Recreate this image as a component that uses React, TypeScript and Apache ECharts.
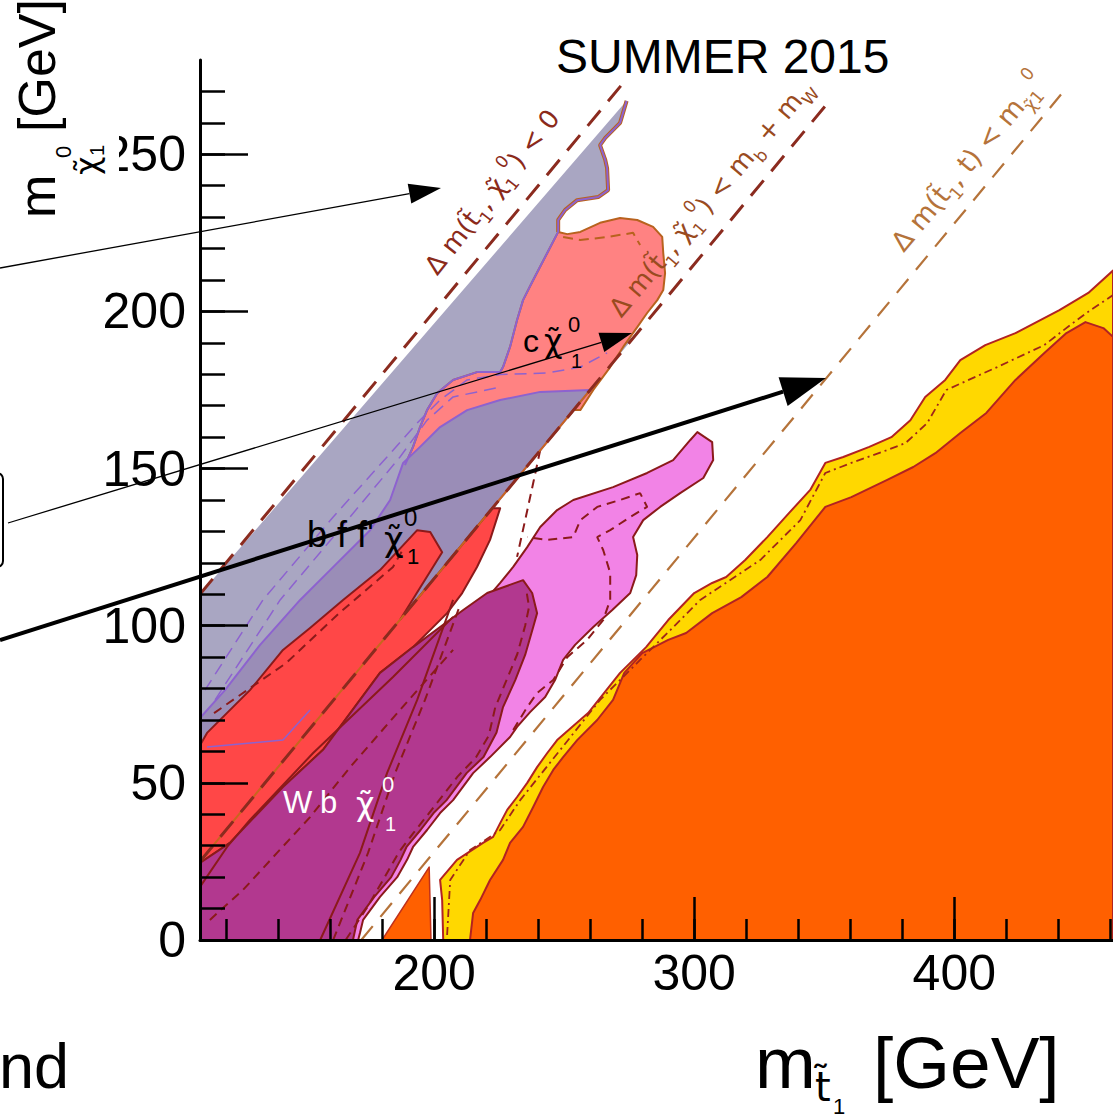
import React, { useEffect, useRef } from "react";
import * as echarts from "echarts";

// ---------- axes (GeV) ----------
const X_RANGE = [110, 461];
const Y_RANGE = [0, 280];
const X_MINOR_TICKS = [120, 140, 160, 180, 200, 220, 240, 260, 280, 300, 320, 340, 360, 380, 400, 420, 440, 460];
const X_MAJOR_TICKS = [200, 300, 400];
const Y_MINOR_TICKS = [10, 20, 30, 40, 50, 60, 70, 80, 90, 100, 110, 120, 130, 140, 150, 160, 170, 180, 190, 200, 210, 220, 230, 240, 250, 260, 270];
const Y_MAJOR_TICKS = [0, 50, 100, 150, 200, 250];

// ---------- kinematic boundaries [m_stop, m_LSP] ----------
const KIN_ZERO = [[110, 110], [273, 273]];
const KIN_BW = [[110, 25], [353, 268]];
const KIN_TOP = [[172, 0], [441, 269]];
const BW_EDGE = [[110, 25], [260, 175]];

// ---------- excluded regions [m_stop, m_LSP] ----------
const GREY_REGION = [
  [110, 110], [274, 267], [271.5, 260], [265.8, 255.2], [263.8, 252.9], [265.8, 248.2], [266.5, 245.6],
  [266.9, 238.6], [263.1, 236.4], [255, 235.4], [250.4, 232.3], [247.7, 229.1], [247.7, 225.3],
  [270, 215], [276, 191], [187, 102], [110, 62],
];
const SALMON_REGION = [
  [247.7, 225.3], [251.2, 224.6], [256.2, 225.3], [263.8, 228.2], [271.5, 229.7], [278.1, 229.1],
  [284.2, 226.9], [287.7, 223.7], [288.1, 218.6], [288.8, 212.2], [288.1, 206.8], [285.8, 203.6],
  [281.9, 199.5], [278.1, 195], [272.7, 188.7], [267.7, 182.3], [261.2, 175], [256.2, 168.6],
  [240.8, 168.6], [225.4, 168], [210, 163.9], [198.5, 157.5], [188.8, 151.1], [191.9, 156.9],
  [194.6, 163.2], [197.3, 168.6], [201.2, 174], [207.3, 178.2], [216.5, 180.7], [225.4, 180.7],
  [226.5, 182.3], [229.2, 188.7], [231.9, 197.3], [234.2, 203.6], [238.1, 210], [243.5, 218.6],
];
const DARKLAV_REGION = [
  [260, 175], [240.8, 174.4], [225.4, 171.8], [212.7, 168.6], [202.3, 163.2], [194.6, 156.9],
  [188.1, 151.8], [183.1, 140], [175.4, 130.4], [160, 117.7], [148.5, 108.2], [133.1, 93.9],
  [119.6, 79.5], [110, 70.6], [110, 60], [187, 102],
];
const RED_REGION = [
  [110, 62], [112.7, 65.9], [129.2, 79.5], [141.9, 92.3], [152.3, 99.3], [165, 108.2], [179.2, 117.7],
  [193.5, 130.4], [198.5, 129.8], [203.1, 123.4], [187, 102], [222.4, 137.4], [225.4, 137.4],
  [221.5, 127.3], [216.5, 118.7], [210.8, 110.4], [205, 104], [191.9, 93.2], [179.2, 85],
  [157.3, 60.5], [141.9, 48.7], [121.5, 30.9], [110, 24.5],
];
const PINK_REGION = [
  [301.2, 161.6], [306.9, 158.4], [307.3, 152.7], [303.5, 147], [294.6, 142.2], [286.9, 137.8],
  [280.4, 133.6], [276.5, 128.2], [278.1, 122.5], [277.7, 116.1], [275.4, 110.4], [268.5, 105],
  [261.2, 99.6], [254.2, 93.9], [249.6, 89.1], [246.5, 82.7], [242.7, 77.3], [236.9, 72.5],
  [231.9, 67.8], [229.2, 64.6], [221.5, 58.2], [215, 53.1], [207.3, 44.5], [202.3, 40.4],
  [197.3, 35], [191.9, 29.6], [189.6, 25.5], [185.8, 20], [179.2, 13.7], [172.7, 6.4], [171.5, 2.2],
  [170.8, 0], [163.8, 0], [186.9, 76.4], [225.4, 113.6], [230.4, 118.7], [235.8, 125], [240.8, 131.4],
  [247.3, 136.8], [253.5, 140], [268.8, 144.1], [281.9, 148.6], [291.9, 152.7], [298.5, 159.1],
];
const MAGENTA_REGION = [
  [110, 0], [110, 24.5], [121.5, 30.9], [141.9, 48.7], [157.3, 60.5], [179.2, 85], [191.9, 93.2],
  [202.3, 99.6], [211.2, 105], [220.4, 110.4], [234.2, 114.5], [237.7, 110.4], [239.6, 104],
  [238.1, 99.6], [235, 90.7], [231.2, 82.7], [226.5, 74.1], [224, 66], [219, 58.2], [212.5, 53.1],
  [204.8, 44.5], [199.8, 40.4], [194.8, 35], [189.4, 29.6], [187.1, 25.5], [183.5, 20], [177, 13.7],
  [170.5, 6.4], [168.8, 0],
];
const TRIANGLE_REGION = [[180, 0], [198.1, 23.2], [198.8, 0]];
const YELLOW_REGION = [
  [203.5, 0], [203.1, 12.7], [202.3, 19.1], [208.8, 25.5], [218.8, 30.9], [222.7, 32.8], [225.4, 37.2],
  [228.1, 41.4], [231.9, 45.5], [235.8, 50], [239.6, 55], [243.5, 59.5], [247.3, 63.6], [259.2, 72.2],
  [271.5, 85], [281.5, 93.2], [290, 101.8], [300, 110.4], [306.9, 113.6], [312.3, 115.5],
  [319.6, 120.9], [328.1, 128.2], [336.5, 135.9], [344.6, 143.2], [350.4, 151.8], [357.3, 153.7],
  [367.3, 156.9], [375.8, 160], [383.1, 165.4], [388.8, 172.8], [396.5, 178.2], [402.3, 184.5],
  [411.9, 189.3], [423.5, 193.1], [440.4, 200.4], [451.5, 205.9], [461, 213], [461, 0],
];
const ORANGE_REGION = [
  [213.8, 0], [215, 8.6], [217.7, 12.7], [221.5, 19.1], [226.5, 25.5], [229.2, 30.9], [234.2, 36],
  [238.1, 42.3], [241.9, 48.7], [245.8, 54.1], [249.6, 58.2], [255, 63.6], [262.7, 70], [268.8, 76.4],
  [273.1, 85], [280, 91.3], [290, 95.5], [296.9, 97.7], [306.9, 104], [318.1, 109.1], [328.1, 115.5],
  [339.2, 126.3], [350.4, 137.8], [360.4, 140.9], [374.2, 146.4], [384.2, 150.5], [392.7, 154.9],
  [402.3, 161.3], [412.3, 167.7], [423.5, 178.2], [434.6, 186.8], [443.1, 193.1], [450.4, 196.6],
  [457.3, 194.7], [461, 191.9], [461, 0],
];

// ---------- contour lines inside regions ----------
const MAG_SOLID_A = [[156.2, 0], [171.5, 27.7], [181.9, 53.1], [193.5, 76.4], [207.3, 108.2]];
const MAG_DASH_A = [[161.2, 0], [174.6, 27.7], [185, 53.1], [196.5, 76.4], [210, 106.6]];
const MAG_SOLID_B = [[110, 16.9], [120.4, 29.6], [129.2, 38.2], [153.5, 59.5], [184.2, 83.7], [207.3, 102.8]];
const MAG_DASH_B = [[113.8, 6.4], [126.5, 15.9], [139.6, 27.7], [152.3, 39.1], [167.7, 55], [186.9, 73.2], [207.3, 92.3]];
const MAG_DASH_C = [[166, 0], [174, 10], [181, 20], [186.5, 28], [192, 34], [201.5, 44], [209, 52], [216, 58], [221, 65], [223.5, 74], [228, 83], [232, 91], [235, 100], [236.5, 106], [235.5, 111]];
const PINK_DASH = [
  [230.4, 66.8], [235.8, 74.1], [239.6, 78.6], [245.8, 82.7], [251.2, 90], [258.8, 95.5], [265, 101.8],
  [267.7, 108.2], [267.7, 116.8], [265, 124.1], [262.7, 128.2], [267.7, 130.4], [275.4, 134.6],
  [281.9, 137.8], [279.2, 142.2], [271.5, 140], [262.7, 137.8], [256.2, 133.6], [253.5, 128.2],
  [243.5, 127.3], [235.8, 128.2],
];
const GAP_DASH = [[240.8, 155.9], [238.1, 145.4], [235, 133.6], [231.9, 121.9]];
const RED_DASH = [[115.4, 72.2], [143.1, 88.1], [163.5, 104], [184.2, 118.7], [188.5, 125]];
const RED_PURPLE = [[112.7, 61.4], [141.9, 63.6], [152.3, 73.2]];
const PURPLE_DASH_A = [[111.9, 79.5], [134.2, 108.2], [161.2, 134.6], [181.9, 153.7], [193.5, 164.5], [202.3, 171.8], [212.7, 178.2], [225.4, 179.9], [243.5, 180.4], [256.2, 182.3], [266.5, 186.8]];
const PURPLE_DASH_B = [[115.8, 76.4], [140.8, 108.2], [167.7, 134.6], [186.9, 153.7], [197.3, 165.4], [207.3, 172.8], [225.4, 175.9]];
const GREY_RIM_TOP = [
  [274, 267], [271.5, 260], [265.8, 255.2], [263.8, 252.9], [265.8, 248.2], [266.5, 245.6], [266.9, 238.6],
  [263.1, 236.4], [255, 235.4], [250.4, 232.3], [247.7, 229.1], [247.7, 225.3],
];
const GREY_RIM_LOW = [
  [247.7, 225.3], [243.5, 218.6], [238.1, 210], [234.2, 203.6], [231.9, 197.3], [229.2, 188.7],
  [226.5, 182.3], [225.4, 180.7], [216.5, 180.7], [207.3, 178.2], [201.2, 174], [197.3, 168.6],
  [194.6, 163.2], [191.9, 156.9], [188.8, 151.1],
];
const SALMON_DASH = [[249.6, 223.7], [256.2, 222.7], [266.5, 223.7], [276.5, 225], [279.2, 221.1]];
const YELLOW_DASHDOT = [
  [205, 1.6], [206.2, 19.1], [213.8, 28.6], [225.4, 35], [233.1, 44.5], [248.5, 60.5], [263.8, 76.4],
  [279.2, 89.1], [290.8, 98.6], [302.3, 108.2], [325.4, 120.9], [340.8, 133.6], [350.4, 148.6],
  [360.4, 151.8], [374.2, 155.9], [381.2, 158.1], [389.6, 164.5], [396.9, 175], [416.5, 182.3],
  [434.6, 189.3], [444.6, 195.7], [452.3, 200.4], [461, 205.2],
];

// ---------- style constants ----------
const DARK_RED = "#8b1a1a";
const PURPLE = "#8d62cf";
const BROWN = "#b8621e";

function polygonSeries(name: string, pts: number[][], fill: string, stroke: string, lineWidth: number) {
  return {
    type: "custom",
    name,
    silent: true,
    clip: true,
    data: [pts[0]],
    renderItem: (_p: any, api: any) => ({
      type: "polygon",
      shape: { points: pts.map((p) => api.coord(p)) },
      style: { fill, stroke, lineWidth, lineJoin: "round" },
    }),
  };
}

function lineSeries(name: string, pts: number[][], color: string, width: number, type: any = "solid") {
  return {
    type: "line",
    name,
    data: pts,
    symbol: "none",
    showSymbol: false,
    silent: true,
    clip: true,
    smooth: false,
    lineStyle: { color, width, type, cap: "butt" },
    emphasis: { disabled: true },
  };
}

function txt(x: number, baseline: number, text: string, size: number, color: string, family: string, align = "left") {
  return {
    type: "text",
    x,
    y: baseline - 0.35 * size,
    z: 60,
    silent: true,
    style: { text, fontSize: size, fontFamily: family, fill: color, align, textAlign: align, verticalAlign: "middle", textVerticalAlign: "middle" },
  };
}

function mathLabel(cx: number, cy: number, rot: number, color: string, text: string, size: number) {
  return {
    type: "text",
    x: cx,
    y: cy,
    rotation: rot,
    z: 60,
    silent: true,
    style: {
      text,
      fill: color,
      align: "center",
      textAlign: "center",
      verticalAlign: "middle",
      textVerticalAlign: "middle",
      rich: {
        n: { fontSize: size, fontFamily: "DejaVu Sans", fill: color, lineHeight: size * 1.5, verticalAlign: "middle" },
        b: { fontSize: size * 0.65, fontFamily: "DejaVu Sans", fill: color, lineHeight: size * 0.9, verticalAlign: "bottom" },
        t: { fontSize: size * 0.65, fontFamily: "DejaVu Sans", fill: color, lineHeight: size * 0.9, verticalAlign: "top" },
      },
    },
  };
}

function arrow(x1: number, y1: number, x2: number, y2: number, width: number, headLen: number, headHalf: number) {
  const dx = x2 - x1;
  const dy = y2 - y1;
  const len = Math.sqrt(dx * dx + dy * dy);
  const ux = dx / len;
  const uy = dy / len;
  const bx = x2 - headLen * ux;
  const by = y2 - headLen * uy;
  const px = -uy;
  const py = ux;
  return [
    { type: "line", z: 70, silent: true, shape: { x1, y1, x2: bx, y2: by }, style: { stroke: "#000", lineWidth: width } },
    {
      type: "polygon",
      z: 70,
      silent: true,
      shape: { points: [[x2, y2], [bx + headHalf * px, by + headHalf * py], [bx - headHalf * px, by - headHalf * py]] },
      style: { fill: "#000" },
    },
  ];
}

function buildOption() {
  const tickStyle = { color: "#000", width: 2.5 };
  const labelFont = { fontSize: 50, fontFamily: "Liberation Sans", color: "#000" };
  const baseAxis = { type: "value", z: 10, splitLine: { show: false }, splitArea: { show: false } };

  const LS = "Liberation Sans";
  const DJ = "DejaVu Sans";

  const yTitle = {
    type: "group",
    x: 55,
    y: 218,
    rotation: Math.PI / 2,
    z: 80,
    children: [
      { type: "text", x: 0, y: -18.2, z: 80, silent: true, style: { text: "m", fontSize: 52, fontFamily: LS, fill: "#000", align: "left", verticalAlign: "middle" } },
      { type: "text", x: 43, y: 32, z: 80, silent: true, style: { text: "χ̃", fontSize: 32, fontFamily: DJ, fill: "#000", align: "left", verticalAlign: "middle" } },
      { type: "text", x: 60, y: 8, z: 80, silent: true, style: { text: "0", fontSize: 22, fontFamily: LS, fill: "#000", align: "left", verticalAlign: "middle" } },
      { type: "text", x: 62, y: 42, z: 80, silent: true, style: { text: "1", fontSize: 20, fontFamily: LS, fill: "#000", align: "left", verticalAlign: "middle" } },
      { type: "text", x: 86, y: -18.2, z: 80, silent: true, style: { text: "[GeV]", fontSize: 52, fontFamily: LS, fill: "#000", align: "left", verticalAlign: "middle" } },
    ],
  };

  const graphic: any[] = [
    // white patch behind the y title (hides part of the 250 label like the reference)
    { type: "rect", z: 75, silent: true, shape: { x: 0, y: 0, width: 119, height: 215 }, style: { fill: "#fff" } },
    yTitle,
    // x title
    txt(755, 1088, "m", 73, "#000", LS),
    txt(815, 1101, "t̃", 40, "#000", DJ),
    txt(833, 1114, "1", 22, "#000", LS),
    txt(873, 1088, "[GeV]", 73, "#000", LS),
    // header
    txt(556, 73, "SUMMER 2015", 48, "#000", LS),
    // slide fragment
    txt(69, 1088, "nd", 63, "#000", LS, "right"),
    { type: "rect", z: 70, silent: true, shape: { x: -20, y: 473, width: 23, height: 94, r: 6 }, style: { fill: "none", stroke: "#000", lineWidth: 2 } },
    // region labels
    txt(523, 352, "c", 32, "#000", LS),
    txt(544, 352, "χ̃", 32, "#000", DJ),
    txt(568, 332, "0", 22, "#000", LS),
    txt(571, 368, "1", 20, "#000", LS),
    txt(307, 547, "b f f'", 36, "#000", LS),
    txt(384, 551, "χ̃", 34, "#000", DJ),
    txt(404, 526, "0", 24, "#000", LS),
    txt(407, 564, "1", 22, "#000", LS),
    txt(283, 813, "W", 31, "#fff", LS),
    txt(320, 813, "b", 31, "#fff", LS),
    txt(356, 815, "χ̃", 32, "#fff", DJ),
    txt(382, 792, "0", 22, "#fff", LS),
    txt(385, 831, "1", 20, "#fff", LS),
    // kinematic labels
    mathLabel(492, 192, (52 * Math.PI) / 180, "#8b2a1a", "{n|Δ m(t̃}{b|1}{n|, χ̃}{b|1}{t|0}{n|) < 0}", 26),
    mathLabel(711, 198, (50 * Math.PI) / 180, "#9a4b1f", "{n|Δ m(t̃}{b|1}{n|, χ̃}{b|1}{t|0}{n|) < m}{b|b}{n| + m}{b|W}", 26),
    mathLabel(968, 162, (50 * Math.PI) / 180, "#b5733a", "{n|Δ m(t̃}{b|1}{n|, t) < m}{b|χ̃}{b|1}{t|0}", 27),
    // overlay arrows
    ...arrow(0, 268, 441, 188, 1.3, 32, 10),
    ...arrow(8, 523, 632, 333, 1.3, 32, 10),
    ...arrow(0, 640, 826, 378, 4, 45, 15),
  ];

  return {
    animation: false,
    backgroundColor: "#ffffff",
    grid: { left: 200, right: 0, top: 60, bottom: 180, containLabel: false },
    xAxis: [
      {
        ...baseAxis,
        min: X_RANGE[0],
        max: X_RANGE[1],
        position: "bottom",
        axisLine: { show: true, onZero: false, lineStyle: { color: "#000", width: 3 } },
        axisTick: { show: true, inside: true, length: 21, customValues: X_MINOR_TICKS, lineStyle: tickStyle },
        axisLabel: { show: true, customValues: X_MAJOR_TICKS, margin: 8, ...labelFont },
      },
      {
        ...baseAxis,
        min: X_RANGE[0],
        max: X_RANGE[1],
        position: "bottom",
        axisLine: { show: false, onZero: false },
        axisTick: { show: true, inside: true, length: 43, customValues: X_MAJOR_TICKS, lineStyle: tickStyle },
        axisLabel: { show: false },
      },
    ],
    yAxis: [
      {
        ...baseAxis,
        min: Y_RANGE[0],
        max: Y_RANGE[1],
        position: "left",
        axisLine: { show: true, onZero: false, lineStyle: { color: "#000", width: 3 } },
        axisTick: { show: true, inside: true, length: 25, customValues: Y_MINOR_TICKS, lineStyle: tickStyle },
        axisLabel: { show: true, customValues: Y_MAJOR_TICKS, margin: 14, ...labelFont },
      },
      {
        ...baseAxis,
        min: Y_RANGE[0],
        max: Y_RANGE[1],
        position: "left",
        axisLine: { show: false, onZero: false },
        axisTick: { show: true, inside: true, length: 48, customValues: Y_MAJOR_TICKS, lineStyle: tickStyle },
        axisLabel: { show: false },
      },
    ],
    series: [
      polygonSeries("grey", GREY_REGION, "#a9a6c2", "none", 0),
      polygonSeries("salmon", SALMON_REGION, "#ff8282", BROWN, 2),
      polygonSeries("darkLav", DARKLAV_REGION, "#9a8db7", PURPLE, 2),
      polygonSeries("red", RED_REGION, "#ff4747", DARK_RED, 2),
      polygonSeries("pink", PINK_REGION, "#f283e6", DARK_RED, 2),
      polygonSeries("magenta", MAGENTA_REGION, "#b2388f", DARK_RED, 2),
      polygonSeries("triangle", TRIANGLE_REGION, "#ff6000", "#c0301a", 1.5),
      polygonSeries("yellow", YELLOW_REGION, "#ffd800", "#b22222", 2),
      polygonSeries("orange", ORANGE_REGION, "#ff6000", "#b22222", 2),
      lineSeries("magSolidA", MAG_SOLID_A, DARK_RED, 2),
      lineSeries("magDashA", MAG_DASH_A, DARK_RED, 2, [9, 6]),
      lineSeries("magSolidB", MAG_SOLID_B, DARK_RED, 2),
      lineSeries("magDashB", MAG_DASH_B, DARK_RED, 2, [9, 6]),
      lineSeries("magDashC", MAG_DASH_C, DARK_RED, 2, [9, 6]),
      lineSeries("pinkDash", PINK_DASH, DARK_RED, 2, [9, 6]),
      lineSeries("gapDash", GAP_DASH, DARK_RED, 2, [9, 6]),
      lineSeries("redDash", RED_DASH, DARK_RED, 2, [9, 6]),
      lineSeries("redPurple", RED_PURPLE, PURPLE, 1.5),
      lineSeries("purpleDashA", PURPLE_DASH_A, PURPLE, 1.5, [12, 7]),
      lineSeries("purpleDashB", PURPLE_DASH_B, PURPLE, 1.5, [12, 7]),
      lineSeries("greyRimBrown", GREY_RIM_TOP, BROWN, 4),
      lineSeries("greyRimTop", GREY_RIM_TOP, PURPLE, 2),
      lineSeries("greyRimLow", GREY_RIM_LOW, PURPLE, 2),
      lineSeries("salmonDash", SALMON_DASH, BROWN, 2, [10, 6]),
      lineSeries("yellowDashDot", YELLOW_DASHDOT, "#a0251a", 1.8, [8, 4, 2, 4]),
      lineSeries("bwEdge", BW_EDGE, "#c8661e", 2),
      lineSeries("kinZero", KIN_ZERO, "#8b2b1f", 3, [20, 12]),
      lineSeries("kinBW", KIN_BW, "#8b2b1f", 3, [20, 12]),
      lineSeries("kinTop", KIN_TOP, "#b5733a", 2.2, [18, 12]),
    ],
    graphic,
  };
}

export default function App() {
  const ref = useRef<HTMLDivElement>(null);
  useEffect(() => {
    if (!ref.current) return;
    const chart = echarts.init(ref.current, null, { renderer: "svg" });
    chart.setOption(buildOption() as any);
    return () => chart.dispose();
  }, []);
  return (
    <div
      ref={ref}
      style={{ position: "absolute", left: 0, top: 0, width: 1113, height: 1120, background: "#fff" }}
    />
  );
}
